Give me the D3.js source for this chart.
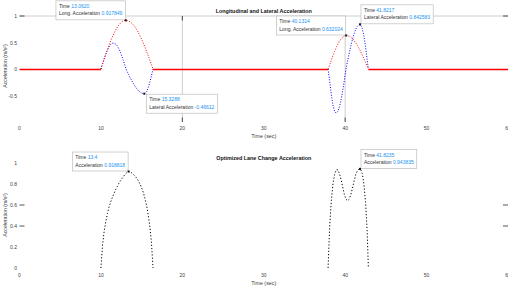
<!DOCTYPE html>
<html><head><meta charset="utf-8">
<script src="https://cdn.jsdelivr.net/npm/d3@7"></script>
<style>body{margin:0;background:#fff}svg{display:block}text{font-family:"Liberation Sans",Arial,sans-serif}</style>
</head><body>
<svg id="c" width="508" height="286"></svg>
<script>
// ---------------- data ----------------
const simSpan = [0, 60];
// first lane change
const timeA = [10.0,10.2,10.4,10.6,10.8,11.0,11.2,11.4,11.6,11.8,12.0,12.2,12.4,12.6,12.8,13.0,13.2,13.4,13.6,13.8,14.0,14.2,14.4,14.6,14.8,15.0,15.2,15.4,15.6,15.8,16.0,16.2,16.4];
const longA = [0,0.094,0.187,0.278,0.367,0.451,0.531,0.605,0.672,0.733,0.785,0.830,0.866,0.893,0.910,0.918,0.916,0.906,0.889,0.863,0.830,0.789,0.742,0.688,0.628,0.562,0.491,0.416,0.337,0.256,0.172,0.086,0];
const latA  = [0,0.099,0.194,0.282,0.357,0.418,0.461,0.485,0.489,0.473,0.437,0.383,0.313,0.230,0.138,0.040,-0.039,-0.103,-0.166,-0.225,-0.279,-0.328,-0.371,-0.407,-0.435,-0.454,-0.464,-0.464,-0.430,-0.359,-0.258,-0.135,0];
const accA  = [0,0.22,0.35,0.44,0.52,0.58,0.63,0.67,0.71,0.745,0.775,0.805,0.83,0.855,0.875,0.895,0.91,0.919,0.915,0.905,0.89,0.875,0.855,0.83,0.80,0.765,0.72,0.665,0.60,0.51,0.40,0.25,0];
// second lane change
const timeB = [37.9,38.1,38.3,38.5,38.7,38.9,39.1,39.3,39.5,39.7,39.9,40.1,40.3,40.5,40.7,40.9,41.1,41.3,41.5,41.7,41.9,42.1,42.3,42.5,42.7,42.85];
const longB = [0,0.077,0.165,0.250,0.330,0.404,0.469,0.524,0.569,0.602,0.624,0.632,0.629,0.618,0.598,0.570,0.535,0.492,0.443,0.388,0.328,0.263,0.195,0.124,0.051,0];
const latB  = [0,-0.234,-0.485,-0.682,-0.803,-0.835,-0.800,-0.713,-0.580,-0.409,-0.211,0,0.153,0.301,0.439,0.562,0.667,0.749,0.807,0.838,0.836,0.765,0.623,0.421,0.180,0];
const accB  = [0,0.40,0.64,0.80,0.89,0.935,0.935,0.90,0.84,0.77,0.70,0.655,0.64,0.655,0.70,0.76,0.83,0.89,0.925,0.942,0.94,0.90,0.80,0.63,0.36,0];

const topTitle = "Longitudinal and Lateral Acceleration";
const bottomTitle = "Optimized Lane Change Acceleration";
const xLabel = "Time (sec)";
const yLabel = "Acceleration (m/s\u00B2)";
const xTicks = [0,10,20,30,40,50,60];
const topYTicks = [-0.5,0,0.5,1];
const botYTicks = [0,0.2,0.4,0.6,0.8,1];

// data tips
const tipTimes = ["13.0620","15.3288","40.1314","41.8217","13.4","41.8235"];
const tipValues = ["0.917849","-0.46612","0.632024","0.842583","0.918818","0.943835"];
const tipNames = ["Long. Acceleration","Lateral Acceleration","Long. Acceleration","Lateral Acceleration","Acceleration","Acceleration"];

// ---------------- layout ----------------
const tipPanel = [0,0,0,0,1,1];
const tipCorner = ["nw","se","nw","ne","nw","ne"];
const topGridX = [20,40];         // grid lines that show in the picture
const topEdgeTickX = [20];
const topBottomTickX = [20,40];
const topSideTickY = [1];
const botSideTickY = [0.4,0.6];

const svg = d3.select("#c");
const x = d3.scaleLinear().domain(simSpan).range([19.5, 508]);
const yTop = d3.scaleLinear().domain([-1,1]).range([122,16]);
const yBot = d3.scaleLinear().domain([0,1]).range([268,163]);
const xMid = (x.range()[0]+x.range()[1])/2;

function pts(t, v){ return t.map((d,i)=>({t:d, v:v[i]})); }

const gridCol = "#c2c2c2", tickCol = "#262626", labCol = "#404040";

// top panel grid / edges
svg.append("g").selectAll("line").data(topGridX).join("line")
  .attr("x1", d=>x(d)).attr("x2", d=>x(d)).attr("y1", yTop(1)).attr("y2", yTop(-1))
  .attr("stroke", gridCol).attr("stroke-width", 0.8);
svg.append("line").attr("x1", x(0)).attr("x2", x(60)).attr("y1", yTop(1)).attr("y2", yTop(1))
  .attr("stroke", gridCol).attr("stroke-width", 0.8);

// tick marks
const tk = svg.append("g").attr("stroke", tickCol).attr("stroke-width", 0.8);
topEdgeTickX.forEach(d=>tk.append("line").attr("x1",x(d)).attr("x2",x(d)).attr("y1",yTop(1)).attr("y2",yTop(1)+4.5));
topBottomTickX.forEach(d=>tk.append("line").attr("x1",x(d)).attr("x2",x(d)).attr("y1",yTop(-1)).attr("y2",yTop(-1)-4.5));
topSideTickY.forEach(d=>{
  tk.append("line").attr("x1",x(0)).attr("x2",x(0)+5).attr("y1",yTop(d)).attr("y2",yTop(d));
  tk.append("line").attr("x1",x(60)-5).attr("x2",x(60)).attr("y1",yTop(d)).attr("y2",yTop(d));
});
botSideTickY.forEach(d=>{
  tk.append("line").attr("x1",x(0)).attr("x2",x(0)+5).attr("y1",yBot(d)).attr("y2",yBot(d));
  tk.append("line").attr("x1",x(60)-5).attr("x2",x(60)).attr("y1",yBot(d)).attr("y2",yBot(d));
});

// tick labels
function xTickLabels(yc){
  svg.append("g").selectAll("text").data(xTicks).join("text")
    .attr("x", d=>x(d)).attr("y", yc).attr("text-anchor","middle").attr("dominant-baseline","central")
    .attr("font-size", 5).attr("fill", labCol).text(d=>d);
}
function yTickLabels(sc, ticks){
  svg.append("g").selectAll("text").data(ticks).join("text")
    .attr("x", 17).attr("y", d=>sc(d)).attr("text-anchor","end").attr("dominant-baseline","central")
    .attr("font-size", 5).attr("fill", labCol).text(d=>d);
}
xTickLabels(127.7); xTickLabels(275);
yTickLabels(yTop, topYTicks); yTickLabels(yBot, botYTicks);

// titles and labels
[[topTitle,10.6],[bottomTitle,158]].forEach(([s,yc])=>
  svg.append("text").attr("x", xMid).attr("y", yc).attr("text-anchor","middle").attr("dominant-baseline","central")
    .attr("font-size", 5.4).attr("font-weight","bold").attr("fill","#111").text(s));
[136.2, 282.8].forEach(yc=>
  svg.append("text").attr("x", xMid).attr("y", yc).attr("text-anchor","middle").attr("dominant-baseline","central")
    .attr("font-size", 5.3).attr("fill", labCol).text(xLabel));
[66, 215].forEach(yc=>
  svg.append("text").attr("transform",`translate(5,${yc}) rotate(-90)`).attr("text-anchor","middle").attr("dominant-baseline","central")
    .attr("font-size", 5.2).attr("fill", labCol).text(yLabel));

// ---------------- series ----------------
const lineTop = d3.line().x(d=>x(d.t)).y(d=>yTop(d.v));
const lineBot = d3.line().x(d=>x(d.t)).y(d=>yBot(d.v));
const full = (a,b)=>[{t:simSpan[0],v:0}, ...a, ...b, {t:simSpan[1],v:0}];

const longAll = full(pts(timeA,longA), pts(timeB,longB));

function zeroRun(data, color){
  svg.append("path").attr("d", d3.line().defined(d=>d.v===0).x(d=>x(d.t)).y(d=>yTop(d.v)+0.5)(data))
    .attr("fill","none").attr("stroke",color).attr("stroke-width",1.6);
}
function dotted(d, color, gen, dash){
  svg.append("path").attr("d", gen(d)).attr("fill","none").attr("stroke",color)
    .attr("stroke-width",1).attr("stroke-dasharray",dash);
}
dotted(pts(timeA,latA), "#0000ff", lineTop, "1,1.6");
dotted(pts(timeB,latB), "#0000ff", lineTop, "1,1.6");
zeroRun(longAll, "#ff0000");
dotted(pts(timeA,longA), "#ff0000", lineTop, "1,1.6");
dotted(pts(timeB,longB), "#ff0000", lineTop, "1,1.6");
dotted(pts(timeA,accA), "#000000", lineBot, "1.2,2");
dotted(pts(timeB,accB), "#000000", lineBot, "1.2,2");

// ---------------- data tips ----------------
tipTimes.forEach((tt,i)=>{
  const sc = tipPanel[i] ? yBot : yTop;
  const px = x(+tt), py = sc(+tipValues[i]);
  const g = svg.append("g");
  const rect = g.append("rect").attr("fill","#fff").attr("stroke","#b4b4b4").attr("stroke-width",0.6);
  const t1 = g.append("text").attr("font-size",5).attr("fill","#333");
  t1.append("tspan").text("Time ");
  t1.append("tspan").attr("fill","#1793f0").text(tt);
  const t2 = g.append("text").attr("font-size",5).attr("fill","#333");
  t2.append("tspan").text(tipNames[i]+" ");
  t2.append("tspan").attr("fill","#1793f0").text(tipValues[i]);
  const w = Math.max(t1.node().getComputedTextLength(), t2.node().getComputedTextLength()) + 6;
  const h = 19;
  let bx, by;
  if (tipCorner[i]==="nw"){ bx = px - w - 0.5; by = py - h - 0.5; }
  else if (tipCorner[i]==="se"){ bx = px + 2; by = py + 0.5; }
  else { bx = px + 1; by = py - h - 0.5; }
  rect.attr("x",bx).attr("y",by).attr("width",w).attr("height",h);
  t1.attr("x",bx+3).attr("y",by+7.2);
  t2.attr("x",bx+3).attr("y",by+14.6);
  g.append("rect").attr("x",px-1).attr("y",py-1).attr("width",2).attr("height",2).attr("fill","#111");
});
</script>
</body></html>
